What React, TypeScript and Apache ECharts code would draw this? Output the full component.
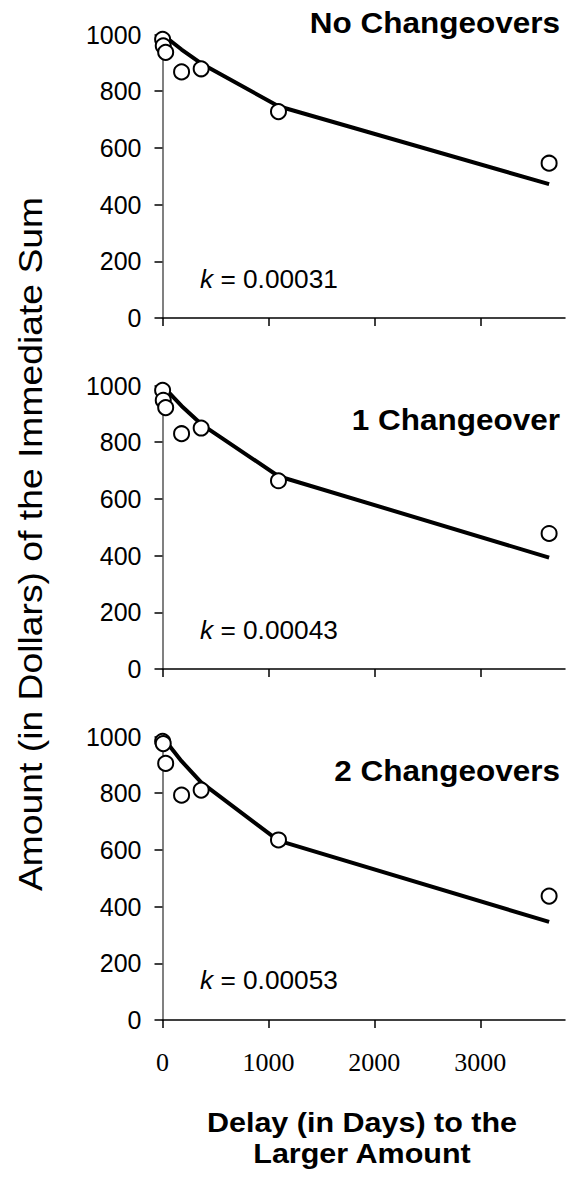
import React, { useEffect, useRef } from "react";
import * as echarts from "echarts";

const delays = [1, 7, 30, 180, 365, 1095, 3650];
const panelTitles = ["No Changeovers", "1 Changeover", "2 Changeovers"];
const kValues = ["0.00031", "0.00043", "0.00053"];
const obsNone = [983, 960, 937, 868, 879, 728, 546];
const obsOne = [983, 948, 922, 830, 850, 664, 478];
const obsTwo = [983, 975, 905, 793, 811, 635, 437];
const fitNone = [1000, 998, 991, 947, 898, 747, 472];
const fitOne = [1000, 997, 987, 928, 864, 680, 393];
const fitTwo = [999, 996, 984, 913, 838, 633, 346];
const xTickValues = [0, 1000, 2000, 3000];
const yTitle = "Amount (in Dollars) of the Immediate Sum";
const xTitleLines = ["Delay (in Days) to the", "Larger Amount"];

const observed = [obsNone, obsOne, obsTwo];
const fitted = [fitNone, fitOne, fitTwo];

const W = 568;
const H = 1177;
const gridTops = [34.5, 385.5, 736.5];
const gridH = 283.5;
const gridLeft = 162.5;
const gridRight = 3;
const titleY = [22.5, 420, 771];
const kY = [279, 630, 980.5];

const plain = (v: number) => String(v);

export default function App() {
  const ref = useRef<HTMLDivElement>(null);
  useEffect(() => {
    if (!ref.current) return;
    const chart = echarts.init(ref.current, null, { renderer: "svg" });
    const grids = gridTops.map((t) => ({ left: gridLeft, right: gridRight, top: t, height: gridH }));
    const xAxes = gridTops.map((_, i) => ({
      type: "value",
      gridIndex: i,
      min: 0,
      max: 3800,
      axisLine: { show: true, onZero: false, lineStyle: { color: "#000", width: 1.5 } },
      axisTick: { show: true, length: 8, customValues: xTickValues, lineStyle: { color: "#000", width: 1.5 } },
      axisLabel: {
        show: i === 2,
        customValues: xTickValues,
        formatter: plain,
        fontFamily: "Liberation Serif",
        fontSize: 26,
        color: "#000",
        margin: 29,
      },
      splitLine: { show: false },
    }));
    const yAxes = gridTops.map((_, i) => ({
      type: "value",
      gridIndex: i,
      min: 0,
      max: 1000,
      interval: 200,
      axisLine: { show: true, lineStyle: { color: "#808080", width: 2 } },
      axisTick: { show: true, length: 8, lineStyle: { color: "#000", width: 1.5 } },
      axisLabel: { formatter: plain, fontFamily: "Liberation Sans", fontSize: 25, color: "#000", margin: 21 },
      splitLine: { show: false },
    }));
    const series: any[] = [];
    gridTops.forEach((_, i) => {
      series.push({
        type: "line",
        xAxisIndex: i,
        yAxisIndex: i,
        data: delays.map((d, j) => [d, fitted[i][j]]),
        symbol: "none",
        lineStyle: { color: "#000", width: 4 },
        z: 2,
      });
      series.push({
        type: "scatter",
        xAxisIndex: i,
        yAxisIndex: i,
        data: delays.map((d, j) => [d, observed[i][j]]),
        symbol: "circle",
        symbolSize: 15,
        itemStyle: { color: "#fff", borderColor: "#000", borderWidth: 2, opacity: 1 },
        z: 3,
      });
    });
    const graphics: any[] = [];
    panelTitles.forEach((t, i) => {
      graphics.push({
        type: "text",
        x: 560,
        y: titleY[i],
        scaleX: 1.05,
        style: {
          text: t,
          fontFamily: "Liberation Sans",
          fontWeight: "bold",
          fontSize: 30,
          fill: "#000",
          align: "right",
          verticalAlign: "middle",
        },
      });
      graphics.push({
        type: "text",
        x: 200,
        y: kY[i],
        scaleX: 1.05,
        style: {
          text: "{i|k} = " + kValues[i],
          fontFamily: "Liberation Sans",
          fontSize: 25,
          fill: "#000",
          align: "left",
          verticalAlign: "middle",
          rich: { i: { fontStyle: "italic", fontFamily: "Liberation Sans", fontSize: 25, fill: "#000" } },
        },
      });
    });
    graphics.push({
      type: "text",
      x: 30,
      y: 544,
      rotation: Math.PI / 2,
      scaleX: 1.13,
      style: {
        text: yTitle,
        fontFamily: "Liberation Sans",
        fontSize: 33,
        fill: "#000",
        align: "center",
        verticalAlign: "middle",
      },
    });
    const xTitleY = [1121.7, 1153.3];
    xTitleLines.forEach((t, i) => {
      graphics.push({
        type: "text",
        x: 362,
        y: xTitleY[i],
        scaleX: 1.09,
        style: {
          text: t,
          fontFamily: "Liberation Sans",
          fontWeight: "bold",
          fontSize: 28,
          fill: "#000",
          align: "center",
          verticalAlign: "middle",
        },
      });
    });
    chart.setOption({
      animation: false,
      backgroundColor: "#fff",
      grid: grids,
      xAxis: xAxes,
      yAxis: yAxes,
      series,
      graphic: graphics,
    });
    return () => chart.dispose();
  }, []);
  return (
    <div
      ref={ref}
      style={{ position: "absolute", left: 0, top: 0, width: W, height: H, background: "#fff" }}
    />
  );
}
